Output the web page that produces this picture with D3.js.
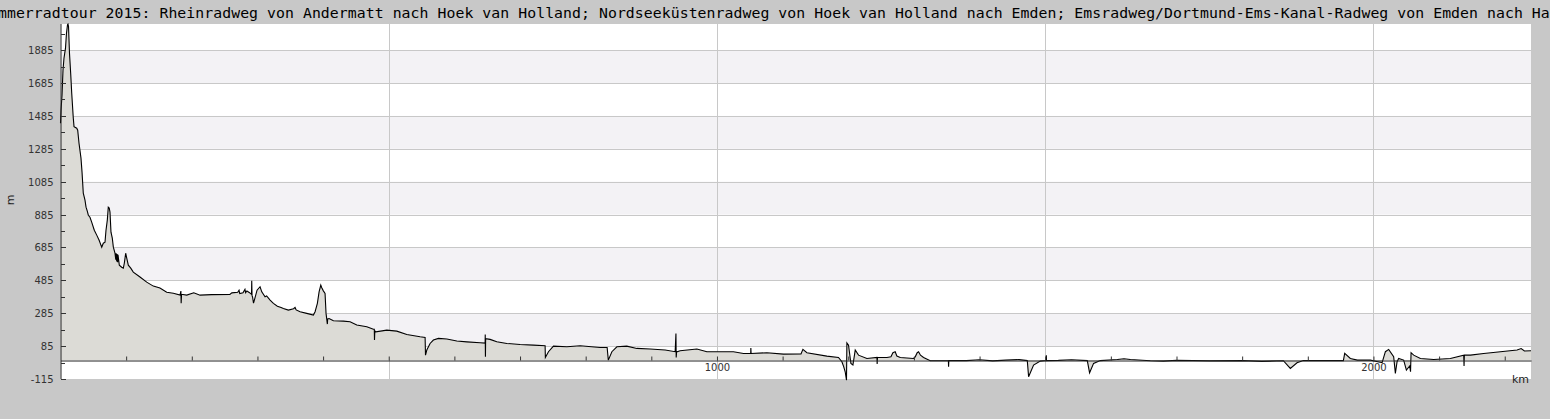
<!DOCTYPE html>
<html>
<head>
<meta charset="utf-8">
<script src="https://cdn.jsdelivr.net/npm/d3@7/dist/d3.min.js"></script>
<style>
  html, body { margin: 0; padding: 0; background: #c8c8c8; overflow: hidden; }
  svg { display: block; }
</style>
</head>
<body>
<svg id="chart" width="1550" height="419"></svg>
<script>
// ---- data ----
const titleText = "Sommerradtour 2015: Rheinradweg von Andermatt nach Hoek van Holland; Nordseeküstenradweg von Hoek van Holland nach Emden; Emsradweg/Dortmund-Ems-Kanal-Radweg von Emden nach Hamm";
const yLabel = "m";
const xLabel = "km";
const yTicks = [-115, 85, 285, 485, 685, 885, 1085, 1285, 1485, 1685, 1885];
const yMinorTicks = [-15, 185, 385, 585, 785, 985, 1185, 1385, 1585, 1785, 1985];
const xTicks = [100, 200, 300, 400, 500, 600, 700, 800, 900, 1000, 1100, 1200, 1300, 1400, 1500, 1600, 1700, 1800, 1900, 2000, 2100, 2200];
const xLabelTicks = [1000, 2000];
const xGrid = [500, 1000, 1500, 2000];
const xDomain = [0, 2240];
const yDomain = [-115, 2044];

// distance (km) and elevation (m)
const km = [
  0,0.8,2.3,3.8,5.3,7.6,9.1,10.7,11.4,12.2,13.7,15.5,17.1,19.5,20.6,24.7,26.2,28.2,31.2,32.8,34.7,37.3,38.9,40.8,42.4,44.9,47.5,51.5,55.2,58.7,62.8,65.2,67.8,69.3,71.3,72.8,74.2,75.4,76.9,78.9,80.5,83,84.2,84.8,85.6,86.3,87,87.6,89.6,93.2,95.7,97.2,99.3,100.9,103.3,107,110.9,121.1,131.3,141.4,151.5,161.8,171.9,182.1,183.4,183.8,184.4,192.3,203,212.6,
  230,258,261,270,272,273,278,281,282,284,288,291,291.3,291.8,292.5,294,295,299.4,304,306.6,311.6,314,319.3,324.3,330.4,336,339.5,347.1,355,357.3,359,365,375.1,385.2,387.8,391.3,393.9,396.5,398,400.4,403,404.5,406.5,407,409.1,415.7,430.9,441.1,451.3,466.6,476.6,478,478.3,478.8,480.3,497,512.3,527.5,547.8,555.4,556,558,563,568,575.7,588.5,603.7,619,639.2,646.8,647,647.3,647.6,654.4,664.6,679.9,700.1,720.4,738.2,738.6,743.3,750.9,771.3,791.6,822,832.7,834.5,839.9,847.5,862.7,878,898.2,921.1,936.3,937.5,937.9,938.5,943.9,969.4,984.6,1004.9,1025.1,1040.4,1051.4,1051.6,1052,1076,1101.3,1128,1130.9,1137,1167.4,1185.1,1190.3,1193,1195.3,1197.3,1197.9,1200.4,1204,1207.1,1210.6,1215.6,1228.4,1243.7,1244,1244.5,1258.9,1265,1268,1271.5,1274,1279.2,1299.4,1302,1305,1307.1,1310,1314.7,1324.9,1352.5,1352.8,1353.2,1379.8,1400,1420,1440,1460,1472.7,1474.7,1482.3,1492.5,1501.5,1501.7,1502,
  1520,1540,1564.1,1567.6,1573.7,1583.9,1609.8,1620,1629.7,1660.1,1680,1700,1750,1800,1830,1862.8,1873.4,1883.6,1893.2,1954.2,1956.2,1964.8,1975.5,1995.3,2013.2,2018.2,2023.2,2030.8,2033.4,2036,2038.4,2046,2050.2,2055.2,2056.5,2057.3,2061.3,2071.5,2091.8,2117.2,2137.5,2138,2138.5,2147.7,2167.9,2193.4,2218.8,2225,2230,2240
];
const elevation = [
  1440,1520,1611,1763,1836,1897,1988,2040,2044,2030,1866,1745,1623,1471,1420,1410,1398,1319,1228,1143,1015,973,930,906,881,869,839,790,760,730,687,711,717,790,851,930,925,900,778,742,687,650,610,650,600,645,595,640,577,565,559,589,650,620,577,559,535,505,474,450,438,413,407,395,420,346,400,395,409,395,
  398,399,409,412,425,405,409,430,410,420,410,400,482,390,385,346,360,425,446,415,385,390,365,345,328,320,314,304,312,320,305,294,284,274,294,345,415,456,440,421,405,284,219,250,253,239,237,233,213,203,188,188,122,178,172,182,176,156,142,138,30,61,101,122,132,128,116,111,105,103,156,20,130,126,111,101,95,91,87,16,51,85,81,87,77,77,0,51,81,85,71,67,61,51,162,16,50,57,67,51,51,51,40,40,73,40,45,36,38,65,45,24,16,-10,-40,-71,-122,105,91,-20,-30,61,30,10,16,-24,16,16,20,45,51,25,16,10,20,45,51,30,16,-4,-3,-41,-3,-3,2,-5,0,3,-3,-101,-30,-6,-3,30,-3,
  -2,2,-3,-77,-20,-3,4,8,4,-4,-6,-2,-5,-3,-8,-4,-51,-16,-3,-3,41,10,0,0,-16,51,65,20,-81,-10,10,0,-61,-36,-71,45,30,10,4,10,30,-36,30,30,40,51,61,70,55,57
];

// ---- chart ----
const svg = d3.select("#chart");
const L = 60.5, R = 1531, T = 24, B = 379;

const x = d3.scaleLinear().domain(xDomain).range([L, R]);
const y = d3.scaleLinear().domain(yDomain).range([B, T]);

// plot background
svg.append("rect").attr("x", L).attr("y", T).attr("width", R - L).attr("height", B - T).attr("fill", "#ffffff");

// alternating bands
const bands = [];
for (let i = 0; i < yTicks.length - 1; i++) {
  if (i % 2 === 1) bands.push([yTicks[i], yTicks[i + 1]]);
}
svg.append("g").selectAll("rect").data(bands).join("rect")
  .attr("x", L).attr("width", R - L)
  .attr("y", d => y(d[1])).attr("height", d => y(d[0]) - y(d[1]))
  .attr("fill", "#f3f2f5");

// grid
const grid = svg.append("g").attr("stroke", "#c8c8c8").attr("stroke-width", 1);
grid.selectAll("line.h").data(yTicks.slice(1)).join("line")
  .attr("x1", L).attr("x2", R)
  .attr("y1", d => Math.round(y(d)) + 0.5).attr("y2", d => Math.round(y(d)) + 0.5);
grid.selectAll("line.v").data(xGrid).join("line")
  .attr("y1", T).attr("y2", B)
  .attr("x1", d => Math.round(x(d)) + 0.5).attr("x2", d => Math.round(x(d)) + 0.5);

// profile
const pts = km.map((k, i) => [k, elevation[i]]);
const area = d3.area().x(d => x(d[0])).y0(y(0)).y1(d => y(d[1]));
const line = d3.line().x(d => x(d[0])).y(d => y(d[1]));
svg.append("path").datum(pts).attr("d", area).attr("fill", "#dcdbd6");
svg.append("path").datum(pts).attr("d", line).attr("fill", "none").attr("stroke", "#000").attr("stroke-width", 1.1);

// x axis at zero
const xAxis = d3.axisBottom(x).tickValues(xTicks).tickSizeInner(-4).tickSizeOuter(0).tickPadding(3)
  .tickFormat(d => xLabelTicks.includes(d) ? String(d) : "");
const gx = svg.append("g").attr("transform", `translate(0,${Math.round(y(0)) + 0.5})`).call(xAxis);
gx.select(".domain").attr("stroke", "#222");
gx.selectAll(".tick line").attr("stroke", "#333");
gx.selectAll("text").attr("fill", "#333").style("font-family", "'DejaVu Sans', sans-serif").style("font-size", "10px");

// y axis
const yAxis = d3.axisLeft(y).tickValues(yTicks).tickSizeInner(-5).tickSizeOuter(0).tickPadding(7)
  .tickFormat(d => String(d));
const gy = svg.append("g").attr("transform", `translate(${L},0)`).call(yAxis);
gy.select(".domain").attr("stroke", "#222").attr("d", `M0.5,${T}V${B}`);
gy.selectAll(".tick line").attr("stroke", "#333").attr("transform", "translate(0.5,0)");
gy.selectAll("text").attr("fill", "#333").style("font-family", "'DejaVu Sans', sans-serif").style("font-size", "10px");
gy.selectAll(".tick").attr("transform", d => `translate(0,${Math.round(y(d)) + 0.5})`);

const yMinor = d3.axisLeft(y).tickValues(yMinorTicks).tickSizeInner(-4).tickSizeOuter(0).tickFormat("");
const gym = svg.append("g").attr("transform", `translate(${L},0)`).call(yMinor);
gym.select(".domain").remove();
gym.selectAll(".tick line").attr("stroke", "#333").attr("transform", "translate(0.5,0)");
gym.selectAll(".tick").attr("transform", d => `translate(0,${Math.round(y(d)) + 0.5})`);

// axis titles
svg.append("text").attr("x", 1529).attr("y", 383).attr("text-anchor", "end")
  .style("font-family", "'DejaVu Sans', sans-serif").style("font-size", "11px").attr("fill", "#222").text(xLabel);
svg.append("text").attr("transform", "translate(14,200) rotate(-90)").attr("text-anchor", "middle")
  .style("font-family", "'DejaVu Sans', sans-serif").style("font-size", "11px").attr("fill", "#222").text(yLabel);

// title (wider than the chart, clipped at both edges as in the original)
svg.append("text").attr("x", -20).attr("y", 18).attr("text-anchor", "start")
  .attr("textLength", titleText.length * 8.97).attr("lengthAdjust", "spacing")
  .style("font-family", "'DejaVu Sans Mono', monospace").style("font-size", "14.8px").attr("fill", "#000")
  .text(titleText);
</script>
</body>
</html>
